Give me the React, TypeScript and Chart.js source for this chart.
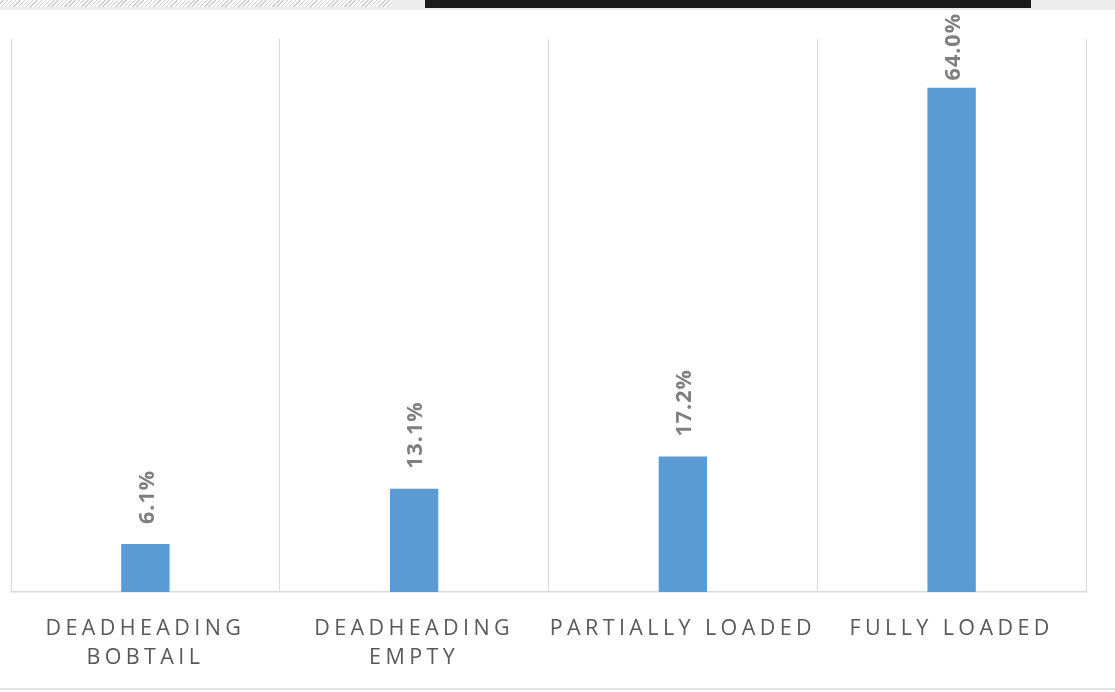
import React, { useEffect, useRef } from "react";
import { Chart, registerables } from "chart.js";

Chart.register(...registerables);

const categories: (string | string[])[] = [
  ["DEADHEADING", "BOBTAIL"],
  ["DEADHEADING", "EMPTY"],
  "PARTIALLY LOADED",
  "FULLY LOADED",
];
const shares: number[] = [6.1, 13.1, 17.2, 64.0];
const valueLabels: string[] = ["6.1%", "13.1%", "17.2%", "64.0%"];

const labelPlugin = {
  id: "valueLabels",
  beforeDraw(chart: any) {
    chart.ctx.letterSpacing = "4.4px";
  },
  afterDatasetsDraw(chart: any) {
    const ctx = chart.ctx;
    const meta = chart.getDatasetMeta(0);
    ctx.save();
    ctx.letterSpacing = "1px";
    ctx.font = "bold 21.5px 'Open Sans'";
    ctx.fillStyle = "#7f7f7f";
    ctx.textAlign = "left";
    ctx.textBaseline = "middle";
    meta.data.forEach((bar: any, i: number) => {
      const text = valueLabels[i];
      const w = ctx.measureText(text).width;
      let start = bar.y - 20;
      if (start - w < 13) start = 13 + w;
      ctx.save();
      ctx.translate(bar.x + 2, start);
      ctx.rotate(-Math.PI / 2);
      ctx.fillText(text, 0, 0);
      ctx.restore();
    });
    ctx.restore();
  },
  afterDraw(chart: any) {
    chart.ctx.letterSpacing = "0px";
  },
};

export default function App() {
  const ref = useRef<HTMLCanvasElement | null>(null);
  useEffect(() => {
    document.body.style.margin = "0";
    if (!ref.current) return;
    const chart = new Chart(ref.current, {
      type: "bar",
      data: {
        labels: categories,
        datasets: [
          {
            data: shares,
            backgroundColor: "#5b9bd5",
            borderWidth: 0,
            categoryPercentage: 1,
            barPercentage: 0.18,
          },
        ],
      },
      options: {
        responsive: false,
        animation: false,
        layout: { padding: { left: 11, right: 29, top: 39, bottom: 0 } },
        plugins: {
          legend: { display: false },
          tooltip: { enabled: false },
        },
        scales: {
          x: {
            afterFit: (scale: any) => {
              scale.height = 100;
            },
            grid: {
              color: "#d9d9d9",
              lineWidth: 1,
              drawTicks: false,
              offset: true,
            },
            border: { color: "#d9d9d9", width: 1.5 },
            ticks: {
              color: "#595959",
              font: { family: "'Open Sans'", size: 21.5, lineHeight: 1.36 },
              padding: 22,
              maxRotation: 0,
              minRotation: 0,
              autoSkip: false,
            },
          },
          y: {
            display: false,
            min: 0,
            max: 70.2,
          },
        },
      },
      plugins: [labelPlugin],
    });
    return () => chart.destroy();
  }, []);

  return (
    <div style={{ position: "absolute", left: 0, top: 0, width: 1115, height: 692, background: "#fff", overflow: "hidden" }}>
      <canvas ref={ref} width={1115} height={692} style={{ display: "block" }} />
      <div style={{ position: "absolute", left: 0, top: 0, width: 1115, height: 10, background: "#ececec" }} />
      <div
        style={{
          position: "absolute",
          left: 0,
          top: 0,
          width: 391,
          height: 7,
          background: "repeating-linear-gradient(135deg, #ffffff 0px, #ffffff 2px, #cfcfcf 2px, #cfcfcf 3px)",
        }}
      />
      <div style={{ position: "absolute", left: 425, top: 0, width: 606, height: 8, background: "#1a1a1a" }} />
      <div style={{ position: "absolute", left: 0, top: 688, width: 1115, height: 2, background: "#e3e3e3" }} />
    </div>
  );
}
